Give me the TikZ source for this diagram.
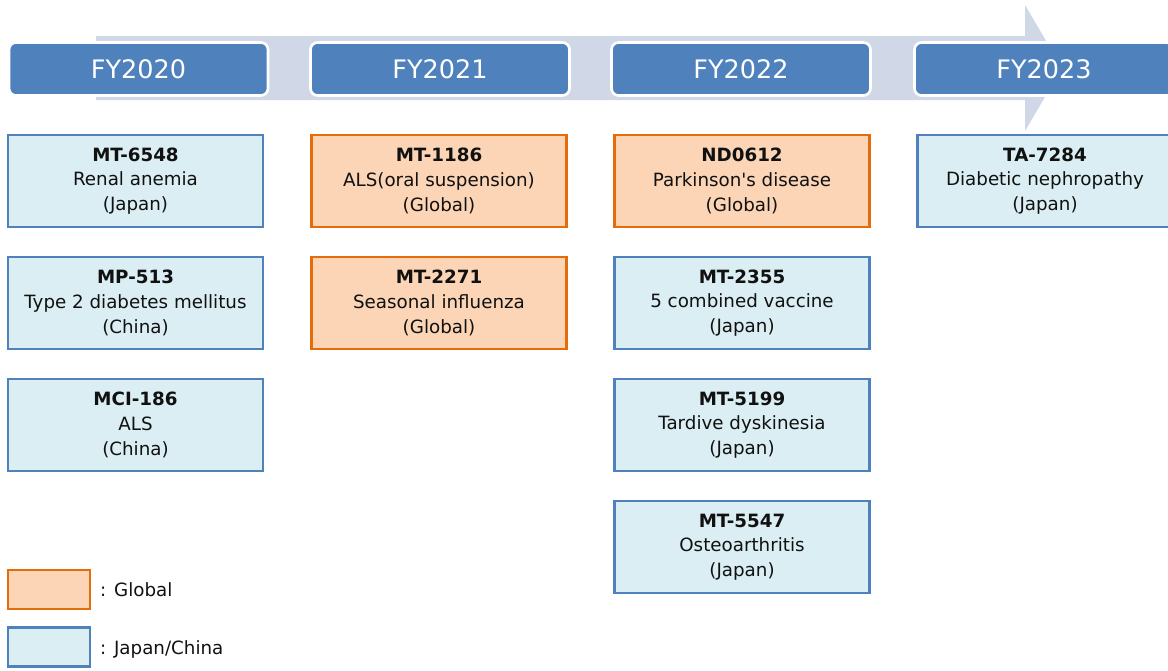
\documentclass[tikz,border=0pt]{standalone}
\usepackage{fontspec}
\setmainfont{DejaVu Sans}
\usepackage{xcolor}
\definecolor{yearblue}{HTML}{4F81BD}
\definecolor{bandgrey}{HTML}{D0D8E8}
\definecolor{jpfill}{HTML}{DAEEF3}
\definecolor{glfill}{HTML}{FBD5B5}
\definecolor{gldraw}{HTML}{E46C0A}
\definecolor{inktext}{HTML}{111111}
\tikzset{
	yearbox/.style={shape=rectangle, rounded corners=4pt, fill=yearblue, draw=white, line width=1.5pt, minimum width=5.18cm, minimum height=1.06cm, text=white, font=\fontsize{14.5}{16}\selectfont},
	jpbox/.style={shape=rectangle, fill=jpfill, draw=yearblue, line width=1.4pt, minimum width=5.1cm, minimum height=1.84cm, align=center, text=inktext, font=\fontsize{10.4}{14}\selectfont},
	glbox/.style={jpbox, fill=glfill, draw=gldraw},
	keytext/.style={anchor=west, text=inktext, font=\fontsize{10.4}{12}\selectfont}
}
\begin{document}
\begin{tikzpicture}[x=0.02cm, y=-0.02cm]
	\useasboundingbox (0, 0) rectangle (1168, 670);
	\clip (0, 0) rectangle (1168, 670);
	% Time arrow behind the years:
	\fill[bandgrey] (96, 36) -- (1025, 36) -- (1025, 5) -- (1062, 68) -- (1025, 131) -- (1025, 100) -- (96, 100) -- cycle;
	% Years:
	\node[yearbox] (fy20) at (138.5, 69){FY2020};
	\node[yearbox] (fy21) at (440, 69){FY2021};
	\node[yearbox] (fy22) at (741, 69){FY2022};
	\node[yearbox] (fy23) at (1044, 69){FY2023};
	% FY2020:
	\node[jpbox] (mt6548) at (135.5, 181){\textbf{MT-6548}\\Renal anemia\\(Japan)};
	\node[jpbox] (mp513) at (135.5, 303){\textbf{MP-513}\\Type 2 diabetes mellitus\\(China)};
	\node[jpbox] (mci186) at (135.5, 425){\textbf{MCI-186}\\ALS\\(China)};
	% FY2021:
	\node[glbox] (mt1186) at (439, 181){\textbf{MT-1186}\\ALS(oral suspension)\\(Global)};
	\node[glbox] (mt2271) at (439, 303){\textbf{MT-2271}\\Seasonal influenza\\(Global)};
	% FY2022:
	\node[glbox] (nd0612) at (742, 181){\textbf{ND0612}\\Parkinson\textquotesingle s disease\\(Global)};
	\node[jpbox] (mt2355) at (742, 303){\textbf{MT-2355}\\5 combined vaccine\\(Japan)};
	\node[jpbox] (mt5199) at (742, 425){\textbf{MT-5199}\\Tardive dyskinesia\\(Japan)};
	\node[jpbox] (mt5547) at (742, 547){\textbf{MT-5547}\\Osteoarthritis\\(Japan)};
	% FY2023:
	\node[jpbox] (ta7284) at (1045, 181){\textbf{TA-7284}\\Diabetic nephropathy\\(Japan)};
	% Key:
	\node[glbox, minimum width=1.64cm, minimum height=0.78cm] (keygl) at (49, 589.5){};
	\node[keytext] (keygltext) at (94, 589.5){: Global};
	\node[jpbox, minimum width=1.64cm, minimum height=0.78cm] (keyjp) at (49, 647){};
	\node[keytext] (keyjptext) at (94, 649){: Japan/China};
\end{tikzpicture}
\end{document}
